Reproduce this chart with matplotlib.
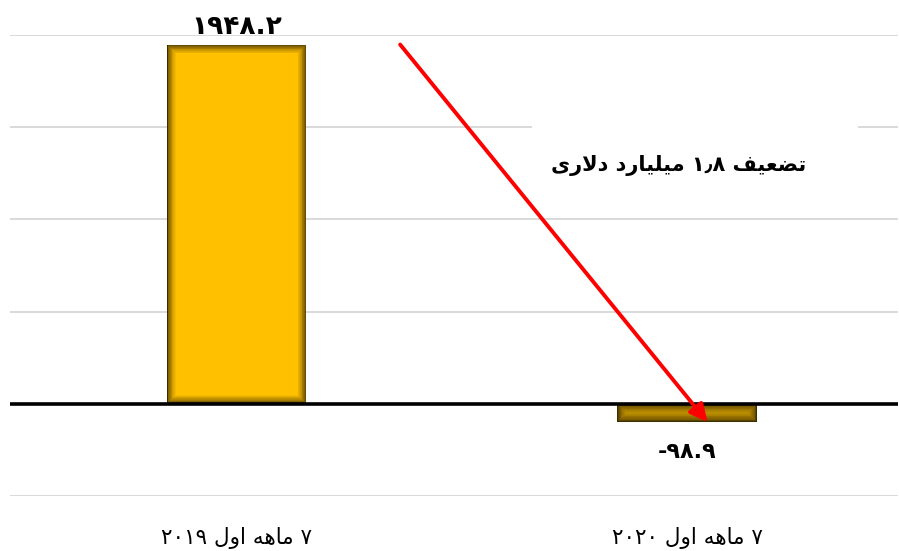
import numpy as np
import matplotlib
matplotlib.use("Agg")
import matplotlib.pyplot as plt
from matplotlib.patches import Rectangle

# donnees du graphique
categories = [["۷", "ماهه", "اول", "۲۰۱۹"], ["۷", "ماهه", "اول", "۲۰۲۰"]]
values = [1948.2, -98.9]
value_labels = ["۱۹۴۸.۲", "-۹۸.۹"]
note_words = ["تضعیف", "۱٫۸", "میلیارد", "دلاری"]
yticks = [-500, 0, 500, 1000, 1500, 2000]

# formes de presentation arabes: isolee, finale, initiale, mediane
FORMS = {
    "ت": ("\uFE95", "\uFE96", "\uFE97", "\uFE98"),
    "ض": ("\uFEBD", "\uFEBE", "\uFEBF", "\uFEC0"),
    "ع": ("\uFEC9", "\uFECA", "\uFECB", "\uFECC"),
    "ی": ("\uFBFC", "\uFBFD", "\uFBFE", "\uFBFF"),
    "ف": ("\uFED1", "\uFED2", "\uFED3", "\uFED4"),
    "م": ("\uFEE1", "\uFEE2", "\uFEE3", "\uFEE4"),
    "ل": ("\uFEDD", "\uFEDE", "\uFEDF", "\uFEE0"),
    "ه": ("\uFEE9", "\uFEEA", "\uFEEB", "\uFEEC"),
    "ا": ("\uFE8D", "\uFE8E", None, None),
    "ر": ("\uFEAD", "\uFEAE", None, None),
    "د": ("\uFEA9", "\uFEAA", None, None),
    "و": ("\uFEED", "\uFEEE", None, None),
    "LA": ("\uFEFB", "\uFEFC", None, None),
}


def shape(word):
    toks = []
    i = 0
    while i < len(word):
        if word[i] == "ل" and i + 1 < len(word) and word[i + 1] == "ا":
            toks.append("LA")
            i += 2
        else:
            toks.append(word[i])
            i += 1
    out = []
    for k, t in enumerate(toks):
        f = FORMS[t]
        prev = k > 0 and FORMS[toks[k - 1]][2] is not None
        nxt = k < len(toks) - 1 and f[2] is not None
        if prev and nxt:
            out.append(f[3])
        elif prev:
            out.append(f[1])
        elif nxt:
            out.append(f[2])
        else:
            out.append(f[0])
    return "".join(out)


def rtl(words):
    vis = []
    for w in words:
        if w[0] in FORMS:
            vis.append(shape(w)[::-1])
        else:
            vis.append(w)
    return " ".join(vis[::-1])


plt.rcParams["font.family"] = ["DejaVu Sans"]

fig = plt.figure(figsize=(8.99, 5.51), dpi=100)
ax = fig.add_axes([0.011, 0.0998, 0.988, 0.8367])

x = np.arange(len(values))
width = 0.31
fills = ["#FFC000", "#BF9000"]
edges = ["#3a2b00", "#3d2e00"]

ax.set_xlim(-0.503, 1.468)
ax.set_ylim(-500, 2000)

# barres avec ombre interieure
px_x = 1 / 450.5
px_y = 2500 / 461.0
n = 12
for i in range(len(values)):
    v = values[i]
    c1 = np.array(matplotlib.colors.to_rgb(edges[i]))
    c2 = np.array(matplotlib.colors.to_rgb(fills[i]))
    for k in range(n):
        t = (k / (n - 1)) ** 0.6
        col = c1 + (c2 - c1) * t
        inset = k * 0.8
        w = width - 2 * inset * px_x
        h = abs(v) - 2 * inset * px_y
        if h <= 0:
            continue
        bottom = min(0, v) + inset * px_y
        ax.bar(x[i], h, width=w, bottom=bottom, color=col, zorder=3, linewidth=0)

# grille
for yt in yticks:
    ax.axhline(yt, color="#d9d9d9", lw=1.4, zorder=1)
ax.axhline(0, color="black", lw=2.6, zorder=4)

# cache blanc derriere l'annotation
ax.add_patch(Rectangle(((532 - 10) / 888, (551 - 200 - 55) / 461), (858 - 532) / 888, 90 / 461,
                       transform=ax.transAxes, facecolor="white", edgecolor="none", zorder=2))

# etiquettes des valeurs
ax.text(x[0], values[0] + 95, value_labels[0], ha="center", va="center",
        fontsize=19, fontweight="bold", zorder=5)
ax.text(x[1], values[1] - 160, value_labels[1], ha="center", va="center",
        fontsize=16, fontweight="bold", zorder=5)

# fleche
ax.annotate("", xy=(1.045, values[1]), xytext=(0.363, values[0]),
            arrowprops=dict(arrowstyle="-|>", color="#FF0000", lw=2.8,
                            mutation_scale=26, shrinkA=0, shrinkB=0), zorder=6)

ax.text(0.98, 1290, rtl(note_words), ha="center", va="center",
        fontsize=15, fontweight="bold", zorder=5)

ax.set_xticks(x)
ax.set_xticklabels([rtl(c) for c in categories], fontsize=15.5)
ax.tick_params(axis="x", length=0, pad=22)
ax.set_yticks([])
for s in ax.spines.values():
    s.set_visible(False)

fig.savefig("out.png", dpi=100, facecolor="white")
